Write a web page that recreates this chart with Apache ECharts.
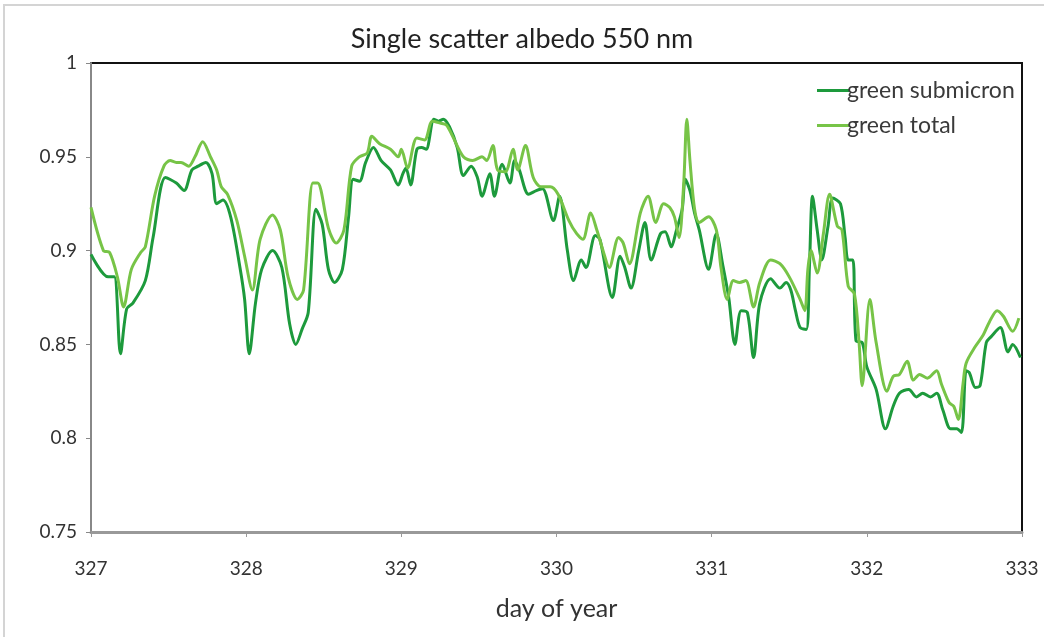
<!DOCTYPE html>
<html><head><meta charset="utf-8">
<script src="https://cdn.jsdelivr.net/npm/echarts@6/dist/echarts.min.js"></script>
<style>html,body{margin:0;padding:0;background:#fff}#c{width:1044px;height:637px}</style>
</head><body><div id="c"></div>
<script>
var subDays = [327.00,327.11,327.15,327.19,327.23,327.27,327.35,327.40,327.48,327.55,327.60,327.65,327.69,327.74,327.78,327.81,327.85,327.90,327.96,327.99,328.02,328.06,328.10,328.17,328.23,328.28,328.32,328.36,328.40,328.45,328.49,328.53,328.57,328.62,328.66,328.69,328.73,328.77,328.82,328.87,328.93,328.98,329.01,329.03,329.06,329.10,329.13,329.16,329.21,329.24,329.27,329.31,329.36,329.40,329.45,329.49,329.52,329.57,329.60,329.65,329.70,329.73,329.76,329.82,329.87,329.91,329.98,330.02,330.07,330.11,330.16,330.19,330.25,330.28,330.36,330.41,330.44,330.48,330.53,330.57,330.61,330.67,330.70,330.74,330.77,330.81,330.83,330.86,330.89,330.92,330.98,331.03,331.07,331.11,331.15,331.19,331.23,331.27,331.31,331.38,331.44,331.48,331.51,331.54,331.57,331.61,331.63,331.65,331.68,331.71,331.75,331.78,331.83,331.86,331.88,331.91,331.93,331.97,332.00,332.06,332.12,332.17,332.21,332.27,332.32,332.36,332.41,332.45,332.49,332.54,332.58,332.61,332.64,332.66,332.70,332.73,332.77,332.80,332.86,332.91,332.94,332.99];
var subValues = [0.898,0.886,0.886,0.845,0.869,0.872,0.884,0.907,0.939,0.936,0.932,0.943,0.945,0.947,0.941,0.925,0.927,0.918,0.891,0.874,0.845,0.872,0.890,0.900,0.891,0.861,0.850,0.858,0.867,0.922,0.914,0.890,0.883,0.890,0.918,0.938,0.937,0.947,0.955,0.948,0.943,0.935,0.941,0.944,0.935,0.954,0.955,0.954,0.970,0.969,0.970,0.966,0.955,0.940,0.945,0.939,0.929,0.941,0.929,0.946,0.936,0.948,0.943,0.930,0.932,0.933,0.916,0.929,0.900,0.884,0.895,0.891,0.908,0.906,0.875,0.897,0.891,0.880,0.900,0.915,0.895,0.909,0.910,0.902,0.910,0.922,0.938,0.932,0.920,0.911,0.890,0.909,0.893,0.875,0.850,0.868,0.867,0.843,0.872,0.885,0.880,0.883,0.879,0.868,0.859,0.858,0.891,0.929,0.911,0.895,0.913,0.928,0.925,0.907,0.895,0.895,0.852,0.851,0.838,0.826,0.805,0.817,0.824,0.826,0.822,0.824,0.822,0.824,0.815,0.805,0.805,0.803,0.836,0.835,0.827,0.828,0.851,0.854,0.859,0.846,0.850,0.843];
var totDays = [327.00,327.08,327.12,327.17,327.21,327.26,327.32,327.35,327.41,327.47,327.51,327.55,327.58,327.63,327.67,327.72,327.77,327.81,327.84,327.88,327.94,327.99,328.04,328.09,328.17,328.22,328.27,328.33,328.37,328.43,328.46,328.53,328.58,328.63,328.68,328.73,328.78,328.81,328.86,328.93,328.98,329.00,329.04,329.10,329.15,329.20,329.25,329.29,329.33,329.40,329.46,329.52,329.55,329.59,329.62,329.67,329.72,329.75,329.80,329.85,329.90,329.96,330.01,330.08,330.13,330.17,330.22,330.26,330.30,330.34,330.40,330.43,330.47,330.54,330.59,330.64,330.69,330.73,330.76,330.79,330.82,330.84,330.86,330.89,330.92,330.98,331.03,331.06,331.10,331.14,331.18,331.22,331.27,331.31,331.38,331.44,331.50,331.57,331.60,331.62,331.64,331.68,331.72,331.76,331.81,331.84,331.88,331.92,331.95,331.97,332.02,332.06,332.13,332.17,332.21,332.26,332.30,332.34,332.39,332.45,332.48,332.53,332.56,332.59,332.62,332.64,332.70,332.75,332.79,332.84,332.88,332.94,332.98];
var totValues = [0.923,0.900,0.899,0.886,0.870,0.890,0.899,0.902,0.929,0.945,0.948,0.947,0.947,0.945,0.950,0.958,0.950,0.943,0.934,0.930,0.916,0.897,0.879,0.906,0.919,0.911,0.886,0.874,0.879,0.936,0.936,0.912,0.904,0.911,0.945,0.950,0.952,0.961,0.957,0.954,0.950,0.954,0.944,0.960,0.959,0.969,0.968,0.967,0.961,0.950,0.948,0.950,0.948,0.956,0.943,0.942,0.954,0.943,0.956,0.939,0.934,0.934,0.930,0.916,0.909,0.906,0.920,0.911,0.900,0.891,0.907,0.904,0.893,0.920,0.929,0.915,0.925,0.923,0.918,0.907,0.936,0.970,0.948,0.922,0.915,0.918,0.911,0.891,0.874,0.884,0.883,0.884,0.870,0.883,0.895,0.893,0.886,0.874,0.868,0.890,0.900,0.888,0.909,0.930,0.913,0.911,0.881,0.877,0.851,0.828,0.874,0.851,0.825,0.833,0.834,0.841,0.831,0.834,0.832,0.836,0.829,0.819,0.817,0.810,0.829,0.840,0.849,0.855,0.862,0.868,0.865,0.857,0.864];
var seriesNames = ['green submicron','green total'];
var titleText = 'Single scatter albedo 550 nm';
var xName = 'day of year';

function pairs(d, v){ return d.map(function(x,i){ return [x, v[i]]; }); }
var FONT = 'Lato';
var chart = echarts.init(document.getElementById('c'));
chart.setOption({
  animation: false,
  backgroundColor: '#fff',
  title: { text: titleText, left: 'center', top: 21, textStyle: { fontFamily: FONT, fontSize: 27, fontWeight: 'normal', color: '#222' } },
  graphic: [{ type: 'rect', shape: { x: 4, y: 5, width: 1100, height: 700 }, style: { fill: 'none', stroke: '#d4d4d4', lineWidth: 2 }, z: -1 }],
  grid: { left: 91, right: 22, top: 63, bottom: 105, show: true, borderColor: '#111', borderWidth: 2, backgroundColor: 'transparent' },
  legend: {
    orient: 'vertical', left: 812, top: 74, itemWidth: 32, itemHeight: 3, itemGap: 12,
    icon: 'rect',
    textStyle: { fontFamily: FONT, fontSize: 23, color: '#3a3a3a', padding: [0,0,0,-7] },
    data: seriesNames
  },
  xAxis: {
    type: 'value', min: 327, max: 333, interval: 1,
    name: xName, nameLocation: 'middle', nameGap: 64,
    nameTextStyle: { fontFamily: FONT, fontSize: 25, color: '#333' },
    axisLine: { show: true, lineStyle: { color: '#999', width: 3 } },
    axisTick: { show: true, length: 5, lineStyle: { color: '#999' } },
    axisLabel: { fontFamily: FONT, fontSize: 19, color: '#333', margin: 27 },
    splitLine: { show: false }
  },
  yAxis: {
    type: 'value', min: 0.75, max: 1, interval: 0.05,
    axisLine: { show: true, lineStyle: { color: '#888', width: 2 } },
    axisTick: { show: true, length: 5, lineStyle: { color: '#888' } },
    axisLabel: { fontFamily: FONT, fontSize: 19, color: '#333', margin: 14 },
    splitLine: { show: false }
  },
  series: [
    { name: seriesNames[0], type: 'line', data: pairs(subDays, subValues), showSymbol: false, smooth: 0.3,
      lineStyle: { color: '#1d9a3c', width: 3 }, itemStyle: { color: '#1d9a3c' } },
    { name: seriesNames[1], type: 'line', data: pairs(totDays, totValues), showSymbol: false, smooth: 0.3,
      lineStyle: { color: '#77c447', width: 3 }, itemStyle: { color: '#77c447' } }
  ]
});
</script></body></html>
